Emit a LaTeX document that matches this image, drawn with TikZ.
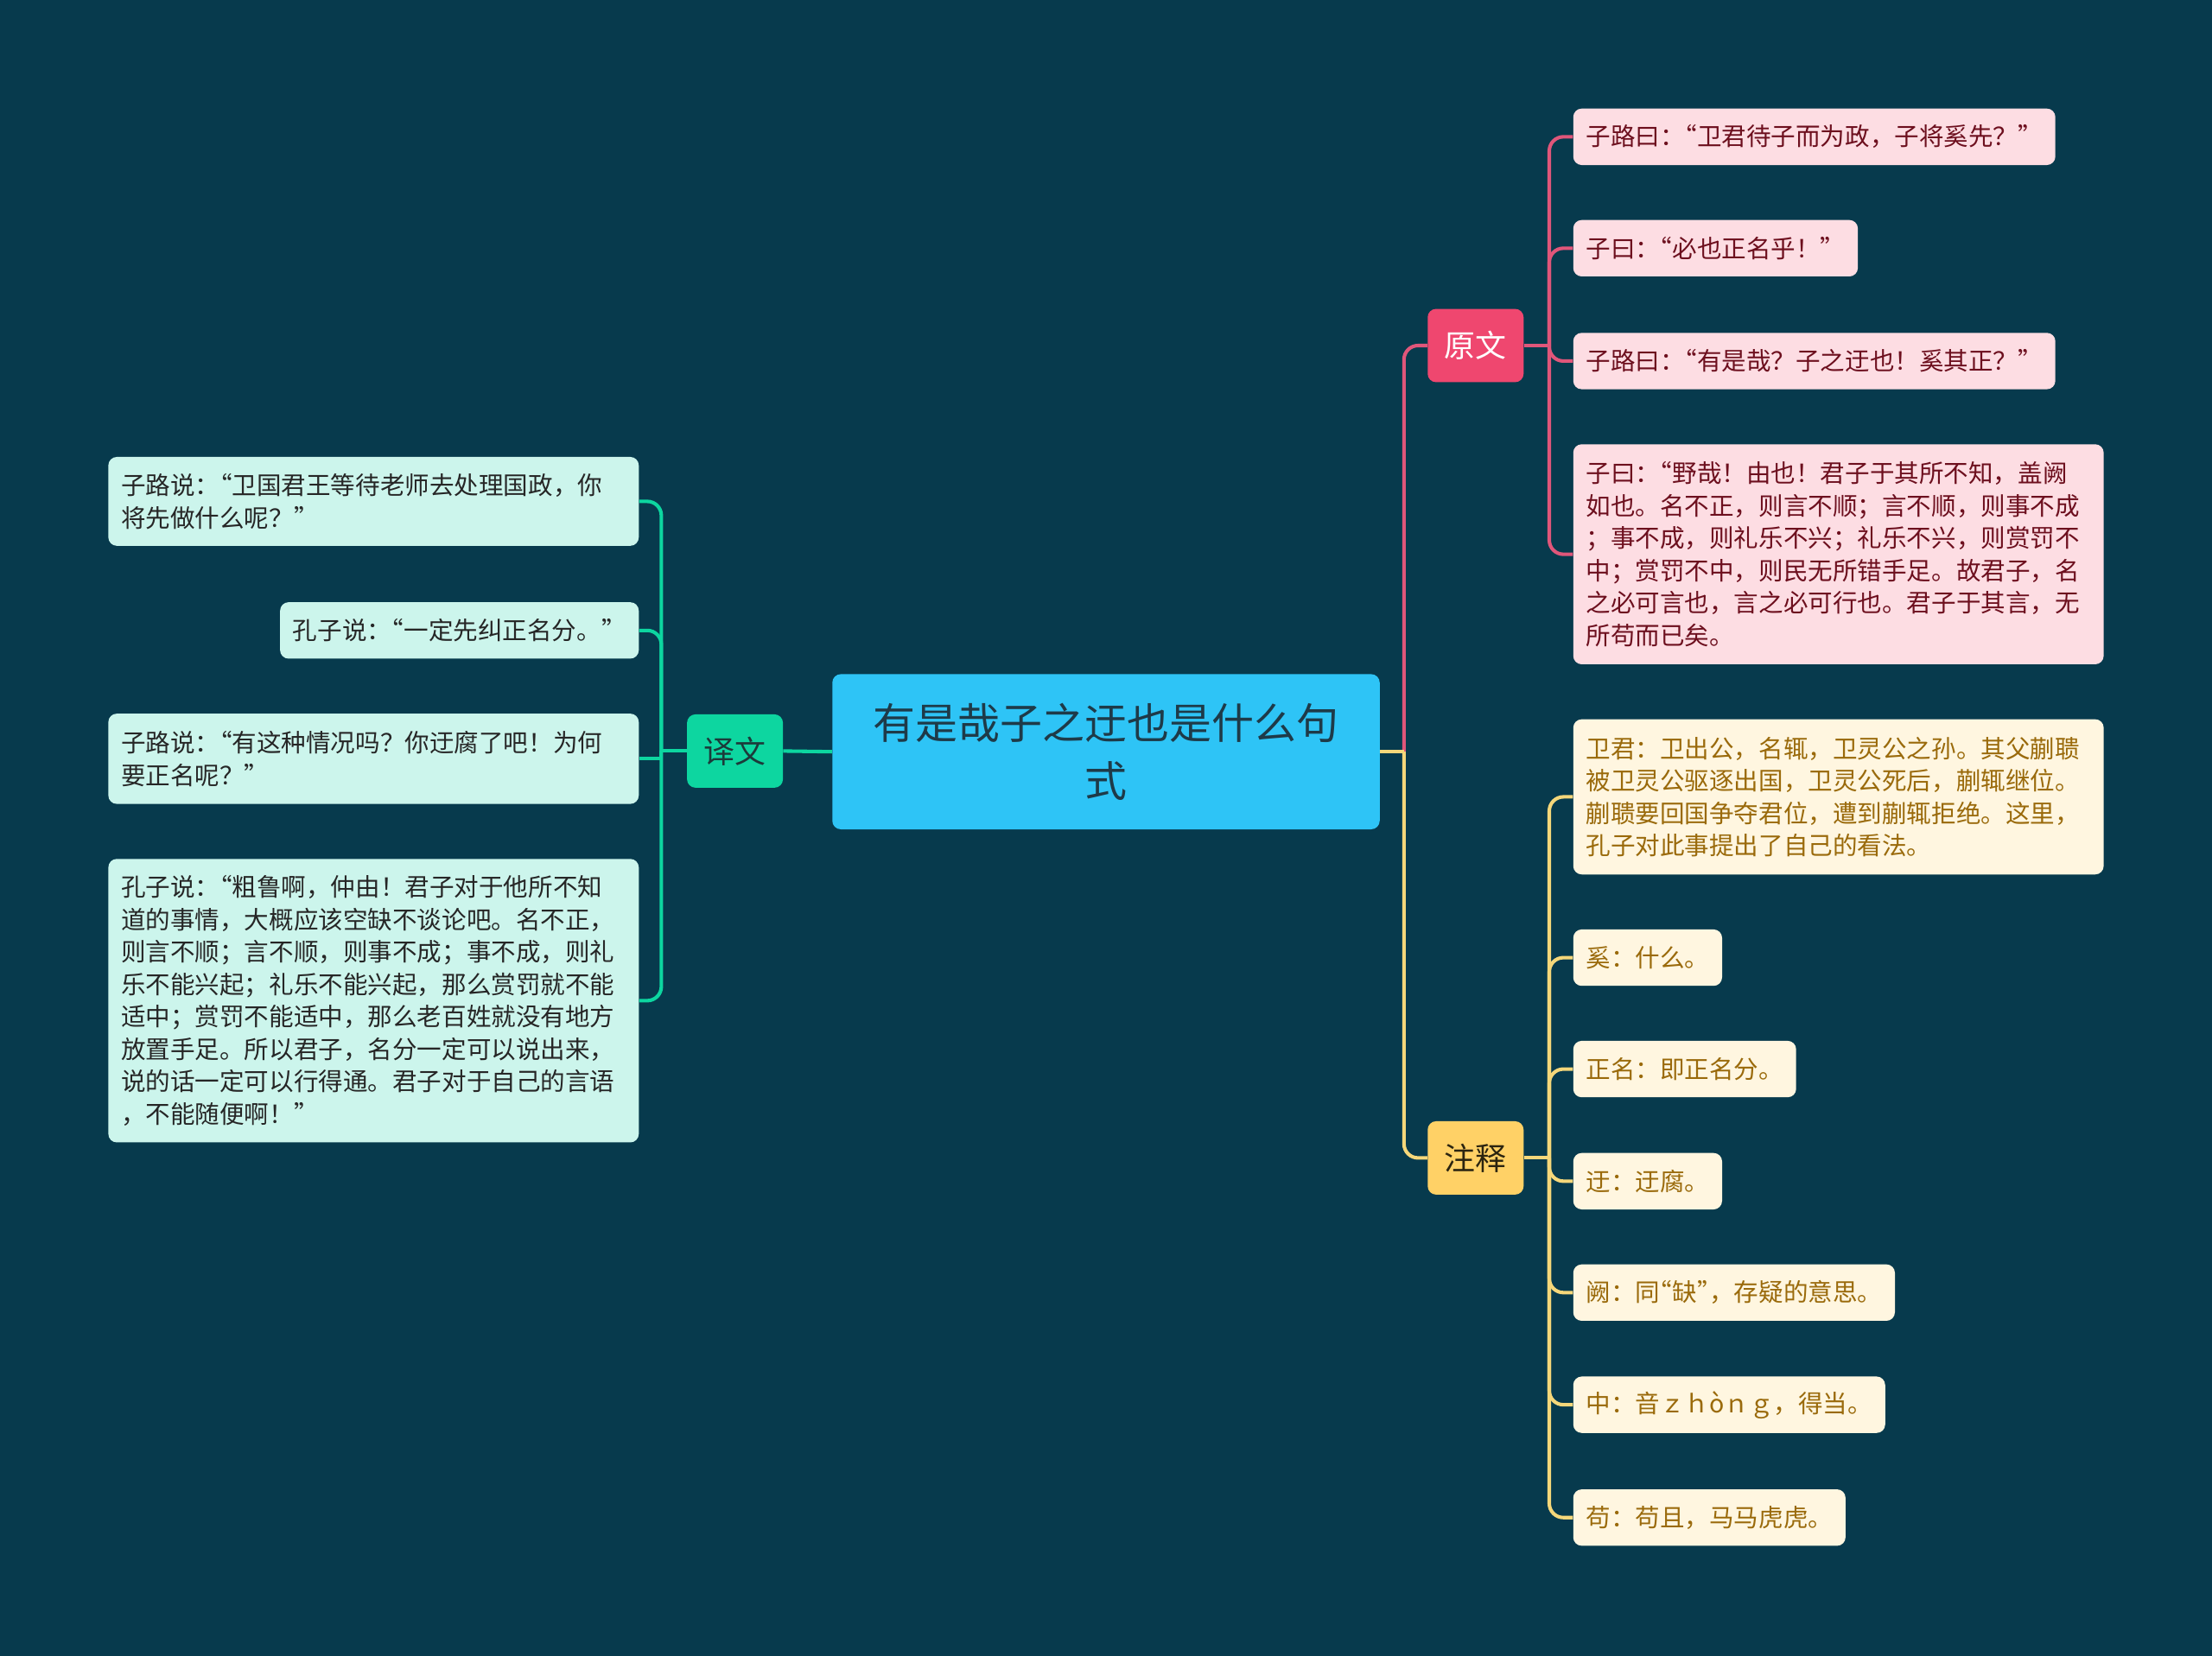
\documentclass[tikz,border=0pt]{standalone}
\usepackage{fontspec}
\setmainfont{Noto Sans CJK SC}
\usepackage{xcolor}
\usepackage{tikz}
\usetikzlibrary{positioning}

\definecolor{bgc}{HTML}{073A4D}
\definecolor{rootc}{HTML}{2EC4F6}
\definecolor{roottxt}{HTML}{1E3A48}
\definecolor{yiwenc}{HTML}{0DD6A0}
\definecolor{yiwentxt}{HTML}{1C3A3A}
\definecolor{yiwenleaf}{HTML}{CCF5EC}
\definecolor{yuanc}{HTML}{EF476F}
\definecolor{yuanl}{HTML}{E0567A}
\definecolor{yuanleaf}{HTML}{FDDDE3}
\definecolor{yuantxt}{HTML}{6D0F1E}
\definecolor{zhuc}{HTML}{FFD166}
\definecolor{zhul}{HTML}{F5D77A}
\definecolor{zhuleaf}{HTML}{FFF6E0}
\definecolor{zhutxt}{HTML}{9A6A0B}
\definecolor{zhuhead}{HTML}{2B2410}

% half-width quotes, as the reference sets them
\newcommand{\openq}{\kern-.5em“}
\newcommand{\closeq}{”\kern-.5em}

\begin{document}
\begin{tikzpicture}[x=1pt, y=-1pt,
    root/.style={fill=rootc, rounded corners=6pt, minimum width=388pt, minimum height=110pt,
      align=center, text=roottxt, font=\fontsize{30}{41}\selectfont},
    branch/.style={rounded corners=6pt, minimum width=68pt, minimum height=52pt, inner sep=0pt,
      font=\fontsize{22}{26}\selectfont},
    leaf/.style={rounded corners=6pt, inner xsep=9pt, inner ysep=0pt, minimum height=40pt,
      align=left, font=\fontsize{17.5}{23}\selectfont},
    gleaf/.style={leaf, fill=yiwenleaf, text=black!85, anchor=east},
    pleaf/.style={leaf, fill=yuanleaf, text=yuantxt, anchor=west},
    yleaf/.style={leaf, fill=zhuleaf, text=zhutxt, anchor=west},
    lnk/.style={line width=2.5pt},
    elbow/.style={lnk, rounded corners=10pt}
  ]
  \fill[bgc] (0,0) rectangle (1568,1174);
  \useasboundingbox (0,0) rectangle (1568,1174);

  \node[root] (root) at (784,533) {有是哉子之迂也是什么句\\式};

  \node[branch, fill=yiwenc, text=yiwentxt] (yiwen) at (521,532.5) {译文};
  \node[branch, fill=yuanc, text=white] (yuan) at (1046,245) {原文};
  \node[branch, fill=zhuc, text=zhuhead] (zhu) at (1046,821) {注释};

  \node[gleaf, text width=358pt, minimum height=63pt] (l1) at (453,355.5)
    {子路说：\openq 卫国君王等待老师去处理国政，你\\将先做什么呢？”};
  \node[gleaf] (l2) at (453,447) {孔子说：\openq 一定先纠正名分。”};
  \node[gleaf, text width=358pt, minimum height=64pt] (l3) at (453,538)
    {子路说：\openq 有这种情况吗？你迂腐了吧！为何\\要正名呢？”};
  \node[gleaf, text width=358pt, minimum height=201pt] (l4) at (453,709.5)
    {孔子说：\openq 粗鲁啊，仲由！君子对于他所不知\\道的事情，大概应该空缺不谈论吧。名不正，\\则言不顺；言不顺，则事不成；事不成，则礼\\乐不能兴起；礼乐不能兴起，那么赏罚就不能\\适中；赏罚不能适中，那么老百姓就没有地方\\放置手足。所以君子，名分一定可以说出来，\\说的话一定可以行得通。君子对于自己的言语\\，不能随便啊！”};

  \node[pleaf] (r1) at (1115,97) {子路曰：\openq 卫君待子而为政，子将奚先？”};
  \node[pleaf] (r2) at (1115,176) {子曰：\openq 必也正名乎！”};
  \node[pleaf] (r3) at (1115,256) {子路曰：\openq 有是哉？子之迂也！奚其正？”};
  \node[pleaf, text width=358pt, minimum height=156pt] (r4) at (1115,393)
    {子曰：\openq 野哉！由也！君子于其所不知，盖阙\\如也。名不正，则言不顺；言不顺，则事不成\\；事不成，则礼乐不兴；礼乐不兴，则赏罚不\\中；赏罚不中，则民无所错手足。故君子，名\\之必可言也，言之必可行也。君子于其言，无\\所苟而已矣。};

  \node[yleaf, text width=358pt, minimum height=110pt] (n1) at (1115,565)
    {卫君：卫出公，名辄，卫灵公之孙。其父蒯聩\\被卫灵公驱逐出国，卫灵公死后，蒯辄继位。\\蒯聩要回国争夺君位，遭到蒯辄拒绝。这里，\\孔子对此事提出了自己的看法。};
  \node[yleaf] (n2) at (1115,679) {奚：什么。};
  \node[yleaf] (n3) at (1115,758) {正名：即正名分。};
  \node[yleaf] (n4) at (1115,837.5) {迂：迂腐。};
  \node[yleaf] (n5) at (1115,916.5) {阙：同\openq 缺\closeq ，存疑的意思。};
  \node[yleaf] (n6) at (1115,996) {中：音ｚｈòｎｇ，得当。};
  \node[yleaf] (n7) at (1115,1076) {苟：苟且，马马虎虎。};

  \coordinate (yj) at ([xshift=-18pt]yiwen.west);
  \coordinate (rj) at ([xshift=17pt]root.east);
  \coordinate (yuanj) at ([xshift=18pt]yuan.east);
  \coordinate (zhuj) at ([xshift=18pt]zhu.east);

  % left side
  \draw[lnk, yiwenc] (root.west) -- (yiwen.east);
  \draw[lnk, yiwenc] (yiwen.west) -- (yj);
  \draw[elbow, yiwenc] (yj) |- (l1.east);
  \draw[elbow, yiwenc] (yj) |- (l2.east);
  \draw[lnk, yiwenc] (yj) |- (l3.east);
  \draw[elbow, yiwenc] (yj) |- (l4.east);

  % right side, pink under yellow at the root
  \draw[elbow, yuanl] (rj) |- (yuan.west);
  \draw[elbow, zhul] (rj) |- (zhu.west);
  \draw[lnk, zhul] (root.east) -- (rj);

  \draw[lnk, yuanl] (yuan.east) -- (yuanj);
  \draw[elbow, yuanl] (yuanj) |- (r1.west);
  \draw[elbow, yuanl] (yuanj) |- (r2.west);
  \draw[elbow, yuanl] (yuanj) |- (r3.west);
  \draw[elbow, yuanl] (yuanj) |- (r4.west);

  \draw[lnk, zhul] (zhu.east) -- (zhuj);
  \draw[elbow, zhul] (zhuj) |- (n1.west);
  \draw[elbow, zhul] (zhuj) |- (n2.west);
  \draw[elbow, zhul] (zhuj) |- (n3.west);
  \draw[elbow, zhul] (zhuj) |- (n4.west);
  \draw[elbow, zhul] (zhuj) |- (n5.west);
  \draw[elbow, zhul] (zhuj) |- (n6.west);
  \draw[elbow, zhul] (zhuj) |- (n7.west);
\end{tikzpicture}
\end{document}
